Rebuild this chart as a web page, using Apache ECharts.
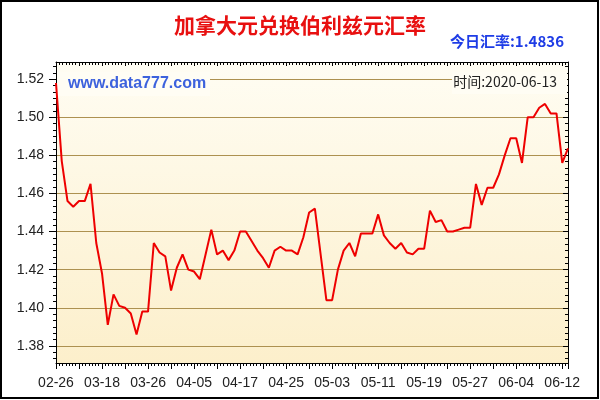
<!DOCTYPE html>
<html>
<head>
<meta charset="utf-8">
<script src="https://cdn.jsdelivr.net/npm/echarts@6/dist/echarts.min.js"></script>
<style>html,body{margin:0;padding:0;background:#fff}#c{width:600px;height:400px}</style>
</head>
<body>
<div id="c"></div>
<script>
var titleText = '加拿大元兑换伯利兹元汇率';
var todayText = '今日汇率:1.4836';
var timeText = '时间:2020-06-13';
var siteText = 'www.data777.com';

var dates = [
'02-26','02-27','02-28','03-02','03-03','03-09','03-12','03-16',
'03-18','03-19','03-20','03-21','03-22','03-23','03-24','03-25',
'03-26','03-27','03-28','03-29','03-31','04-01','04-02','04-04',
'04-05','04-06','04-07','04-09','04-11','04-13','04-14','04-16',
'04-17','04-18','04-19','04-20','04-21','04-22','04-23','04-24',
'04-25','04-26','04-27','04-28','04-29','04-30','05-01','05-02',
'05-03','05-04','05-05','05-06','05-07','05-08','05-09','05-10',
'05-11','05-12','05-13','05-14','05-15','05-16','05-17','05-18',
'05-19','05-20','05-21','05-22','05-23','05-24','05-25','05-26',
'05-27','05-28','05-29','05-30','05-31','06-01','06-02','06-03',
'06-04','06-05','06-06','06-07','06-08','06-09','06-10','06-11',
'06-12','06-13'];

var rates = [
1.518,1.477,1.456,1.453,1.456,1.456,1.465,1.434,
1.418,1.391,1.407,1.401,1.400,1.397,1.386,1.398,
1.398,1.434,1.429,1.427,1.409,1.421,1.428,1.420,
1.419,1.415,1.428,1.441,1.428,1.430,1.425,1.430,
1.440,1.440,1.435,1.430,1.426,1.421,1.430,1.432,
1.430,1.430,1.428,1.437,1.450,1.452,1.428,1.404,
1.404,1.420,1.430,1.434,1.427,1.439,1.439,1.439,
1.449,1.438,1.434,1.431,1.434,1.429,1.428,1.431,
1.431,1.451,1.445,1.446,1.440,1.440,1.441,1.442,
1.442,1.465,1.454,1.463,1.463,1.470,1.480,1.489,
1.489,1.476,1.500,1.500,1.505,1.507,1.502,1.502,
1.476,1.4836];

var yTicks = [1.38,1.40,1.42,1.44,1.46,1.48,1.50,1.52];
var yMin = 1.371, yMax = 1.529;

// minor tick positions (6 per major step)
var yMinor = [];
(function(){
  var step = 0.02/6;
  for (var v = yTicks[0] - 2*step; v <= yMax; v += step) {
    if (v >= yMin && v <= yMax) yMinor.push(+v.toFixed(5));
  }
})();

var chart = echarts.init(document.getElementById('c'), null, {renderer:'canvas'});
var gridCol = '#AD9150';
var fontF = '"Liberation Sans", Arial, sans-serif';
var cjkF = '"Noto Sans CJK SC", "Liberation Sans", sans-serif';

var option = {
  animation: false,
  backgroundColor: '#ffffff',
  title: {
    text: titleText, left: 'center', top: 10,
    textStyle: {color:'#E81010', fontSize:21, fontWeight:'bold', fontFamily:cjkF}
  },
  grid: {
    left: 56, right: 32, top: 62, bottom: 37, show: true, borderWidth: 0,
    backgroundColor: new echarts.graphic.LinearGradient(0,0,0,1,[
      {offset:0,color:'#FFFDF3'},{offset:1,color:'#FCEFCB'}])
  },
  xAxis: [
    {
      type:'category', data:dates, boundaryGap:false,
      axisLine:{show:true, lineStyle:{color:'#000', width:1}},
      axisTick:{show:false},
      axisLabel:{interval:7, fontSize:14, color:'#222', fontFamily:fontF, margin:13},
      splitLine:{show:false}
    },
    {
      type:'value', min:0, max:dates.length-1, interval:4, position:'bottom',
      axisLine:{show:false}, axisLabel:{show:false}, splitLine:{show:false},
      axisTick:{show:true, length:6, lineStyle:{color:'#000'}},
      minorTick:{show:true, splitNumber:7, length:3, lineStyle:{color:'#000'}},
      minorSplitLine:{show:false}
    },
    {
      type:'value', min:0, max:dates.length-1, interval:4, position:'top',
      axisLine:{show:true, lineStyle:{color:'#000'}}, axisLabel:{show:false}, splitLine:{show:false},
      axisTick:{show:true, inside:true, length:4, lineStyle:{color:'#000'}},
      minorTick:{show:true, splitNumber:7, length:3, lineStyle:{color:'#000'}},
      minorSplitLine:{show:false}
    }
  ],
  yAxis: [
    {
      type:'value', min:yMin, max:yMax, position:'left',
      axisLine:{show:true, lineStyle:{color:'#000'}},
      axisTick:{show:true, customValues:yTicks, length:7, lineStyle:{color:'#000'}},
      axisLabel:{customValues:yTicks, formatter:function(v){return v.toFixed(2);}, fontSize:14, color:'#222', fontFamily:fontF, margin:12},
      splitLine:{show:true, lineStyle:{color:gridCol, width:1}}
    },
    {
      type:'value', min:yMin, max:yMax, position:'left',
      axisLine:{show:false}, axisLabel:{show:false}, splitLine:{show:false},
      axisTick:{show:true, customValues:yMinor, length:3, lineStyle:{color:'#000'}}
    },
    {
      type:'value', min:yMin, max:yMax, position:'right',
      axisLine:{show:true, lineStyle:{color:'#000'}}, axisLabel:{show:false}, splitLine:{show:false},
      axisTick:{show:true, inside:true, customValues:yMinor, length:3, lineStyle:{color:'#000'}}
    },
    {
      type:'value', min:yMin, max:yMax, position:'right',
      axisLine:{show:false}, axisLabel:{show:false}, splitLine:{show:false},
      axisTick:{show:true, inside:true, customValues:yTicks, length:5, lineStyle:{color:'#000'}}
    }
  ],
  series: [{
    type:'line', data:rates, xAxisIndex:0, yAxisIndex:0,
    showSymbol:false, symbol:'none', z:5,
    lineStyle:{color:'#EE0000', width:2}
  }],
  graphic: [
    {type:'rect', z:1, shape:{x:57, y:72, width:153, height:24}, style:{fill:'#FFFDF4'}},
    {type:'text', z:6, left:68, top:76, style:{text:siteText, fill:'#3D62DD', font:'bold 16px "Liberation Sans", Arial, sans-serif'}},
    {type:'rect', z:1, shape:{x:452, y:72, width:115, height:22}, style:{fill:'#FFFDF4'}},
    {type:'text', z:6, right:43, top:75, style:{text:timeText, fill:'#222', font:'14px "Noto Sans CJK SC", "Liberation Sans", sans-serif'}},
    {type:'text', z:6, right:36, top:34, style:{text:todayText, fill:'#1E3CE6', font:'bold 15px "Noto Sans CJK SC", "Liberation Sans", sans-serif'}},
    {type:'rect', z:10, shape:{x:1, y:1, width:597, height:397}, style:{fill:'none', stroke:'#000', lineWidth:2}}
  ]
};
chart.setOption(option);
</script>
</body>
</html>
